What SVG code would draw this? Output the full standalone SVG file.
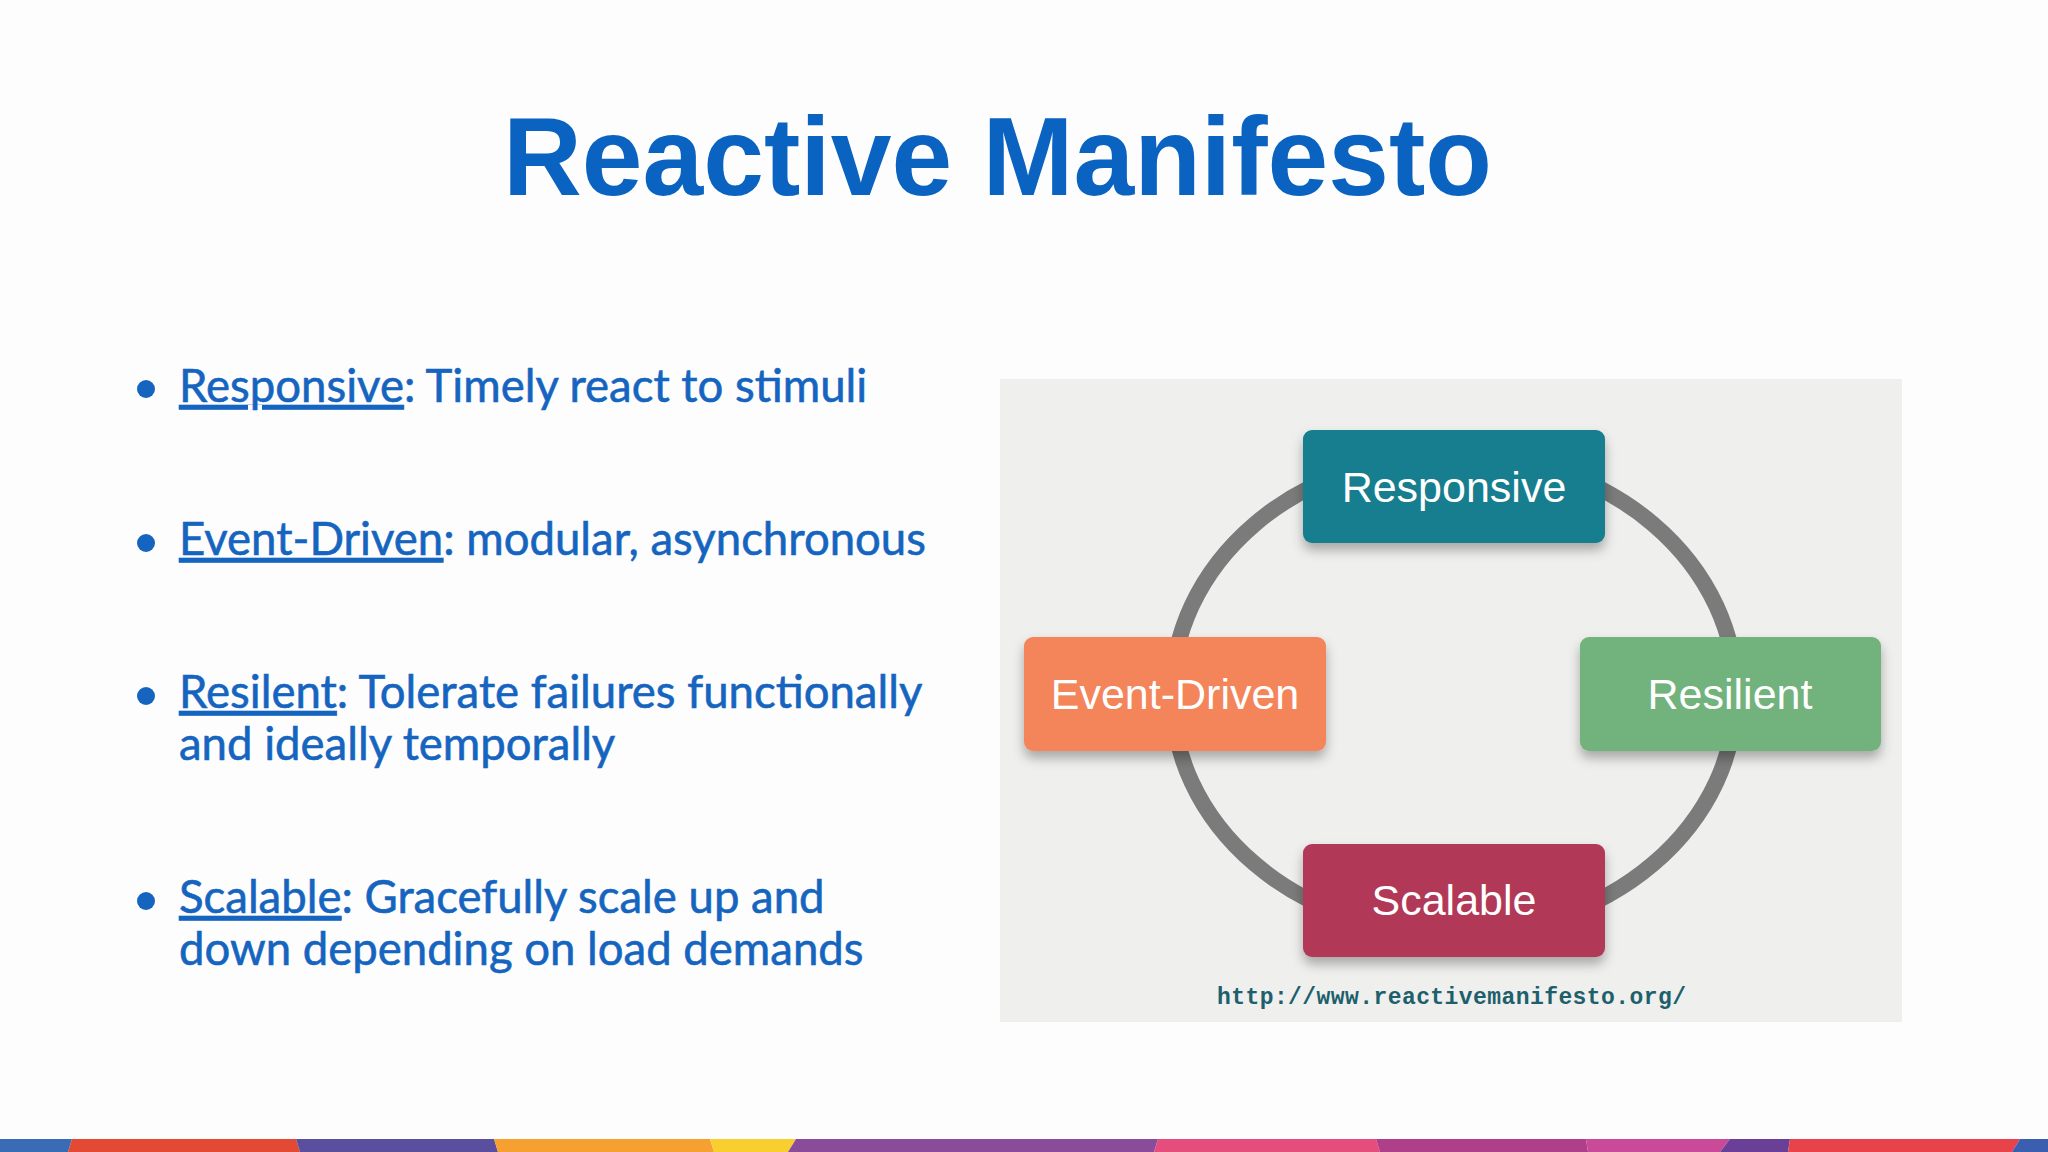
<svg xmlns="http://www.w3.org/2000/svg" width="2048" height="1152" viewBox="0 0 2048 1152">
  <defs>
    <style>
      .title { font-family: "Liberation Sans", Arial, sans-serif; font-weight: bold; font-size: 112px; fill: #0b63c1; }
      .bul { font-family: Lato, "Open Sans", sans-serif; font-size: 45.5px; fill: #1565c0; stroke: #1565c0; stroke-width: 0.6px; }
      .u { text-decoration: underline; }
      .dot { fill: #1565c0; }
      .lbl { font-family: "Liberation Sans", Arial, sans-serif; font-size: 43px; fill: #ffffff; text-anchor: middle; }
      .url { font-family: "Liberation Mono", "DejaVu Sans Mono", monospace; font-size: 23px; fill: #1d5f6c; font-weight: bold; }
    </style>
    <filter id="sh" x="-20%" y="-30%" width="140%" height="170%">
      <feDropShadow dx="0" dy="7" stdDeviation="6" flood-color="#000" flood-opacity="0.3"/>
    </filter>
  </defs>

  <rect x="0" y="0" width="2048" height="1152" fill="#fdfdfd"/>

  <!-- bottom stripe -->
  <g id="stripe">
    <polygon points="0,1139 72,1139 68,1152 0,1152" fill="#3a6bb5"/>
    <polygon points="72,1139 296,1139 300,1152 68,1152" fill="#e24a33"/>
    <polygon points="296,1139 494,1139 498,1152 300,1152" fill="#5a4f9e"/>
    <polygon points="494,1139 710,1139 714,1152 498,1152" fill="#f5a030"/>
    <polygon points="710,1139 796,1139 788,1152 714,1152" fill="#f8cf2e"/>
    <polygon points="796,1139 1158,1139 1154,1152 788,1152" fill="#8a4c9a"/>
    <polygon points="1158,1139 1376,1139 1380,1152 1154,1152" fill="#e54d7c"/>
    <polygon points="1376,1139 1586,1139 1588,1152 1380,1152" fill="#b03f8a"/>
    <polygon points="1586,1139 1730,1139 1720,1152 1588,1152" fill="#c84a98"/>
    <polygon points="1730,1139 1790,1139 1788,1152 1720,1152" fill="#6a3f98"/>
    <polygon points="1790,1139 2020,1139 2012,1152 1788,1152" fill="#e8434a"/>
    <polygon points="2020,1139 2048,1139 2048,1152 2012,1152" fill="#3a5fb0"/>
  </g>

  <text id="title" class="title" x="503" y="195" textLength="989" lengthAdjust="spacingAndGlyphs">Reactive Manifesto</text>

  <g id="bullets">
    <circle class="dot" cx="146" cy="389" r="9"/>
    <text class="bul" x="179" y="402"><tspan class="u">Responsive</tspan>: Timely react to stimuli</text>

    <circle class="dot" cx="146" cy="543" r="9"/>
    <text class="bul" x="179" y="555"><tspan class="u">Event-Driven</tspan>: modular, asynchronous</text>

    <circle class="dot" cx="146" cy="696" r="9"/>
    <text class="bul" x="179" y="708"><tspan class="u">Resilent</tspan>: Tolerate failures functionally</text>
    <text class="bul" x="179" y="760">and ideally temporally</text>

    <circle class="dot" cx="146" cy="901" r="9"/>
    <text class="bul" x="179" y="913"><tspan class="u">Scalable</tspan>: Gracefully scale up and</text>
    <text class="bul" x="179" y="965">down depending on load demands</text>
  </g>

  <rect id="panel" x="1000" y="379" width="902" height="643" fill="#efefed"/>

  <g id="connectors">
    <ellipse cx="1454" cy="694" rx="282" ry="240" fill="none" stroke="#7b7b7b" stroke-width="16"/>
  </g>

  <g id="node-responsive">
    <rect x="1303" y="430" width="302" height="113" rx="9" fill="#137e8e" filter="url(#sh)"/>
    <text class="lbl" x="1454" y="502">Responsive</text>
  </g>
  <g id="node-event-driven">
    <rect x="1024" y="637" width="302" height="114" rx="9" fill="#f4845a" filter="url(#sh)"/>
    <text class="lbl" x="1175" y="709">Event-Driven</text>
  </g>
  <g id="node-resilient">
    <rect x="1580" y="637" width="301" height="114" rx="9" fill="#72b27c" filter="url(#sh)"/>
    <text class="lbl" x="1730" y="709">Resilient</text>
  </g>
  <g id="node-scalable">
    <rect x="1303" y="844" width="302" height="113" rx="9" fill="#b13857" filter="url(#sh)"/>
    <text class="lbl" x="1454" y="915">Scalable</text>
  </g>

  <text id="url" class="url" x="1217" y="1004" textLength="469" lengthAdjust="spacing">http://www.reactivemanifesto.org/</text>
</svg>
